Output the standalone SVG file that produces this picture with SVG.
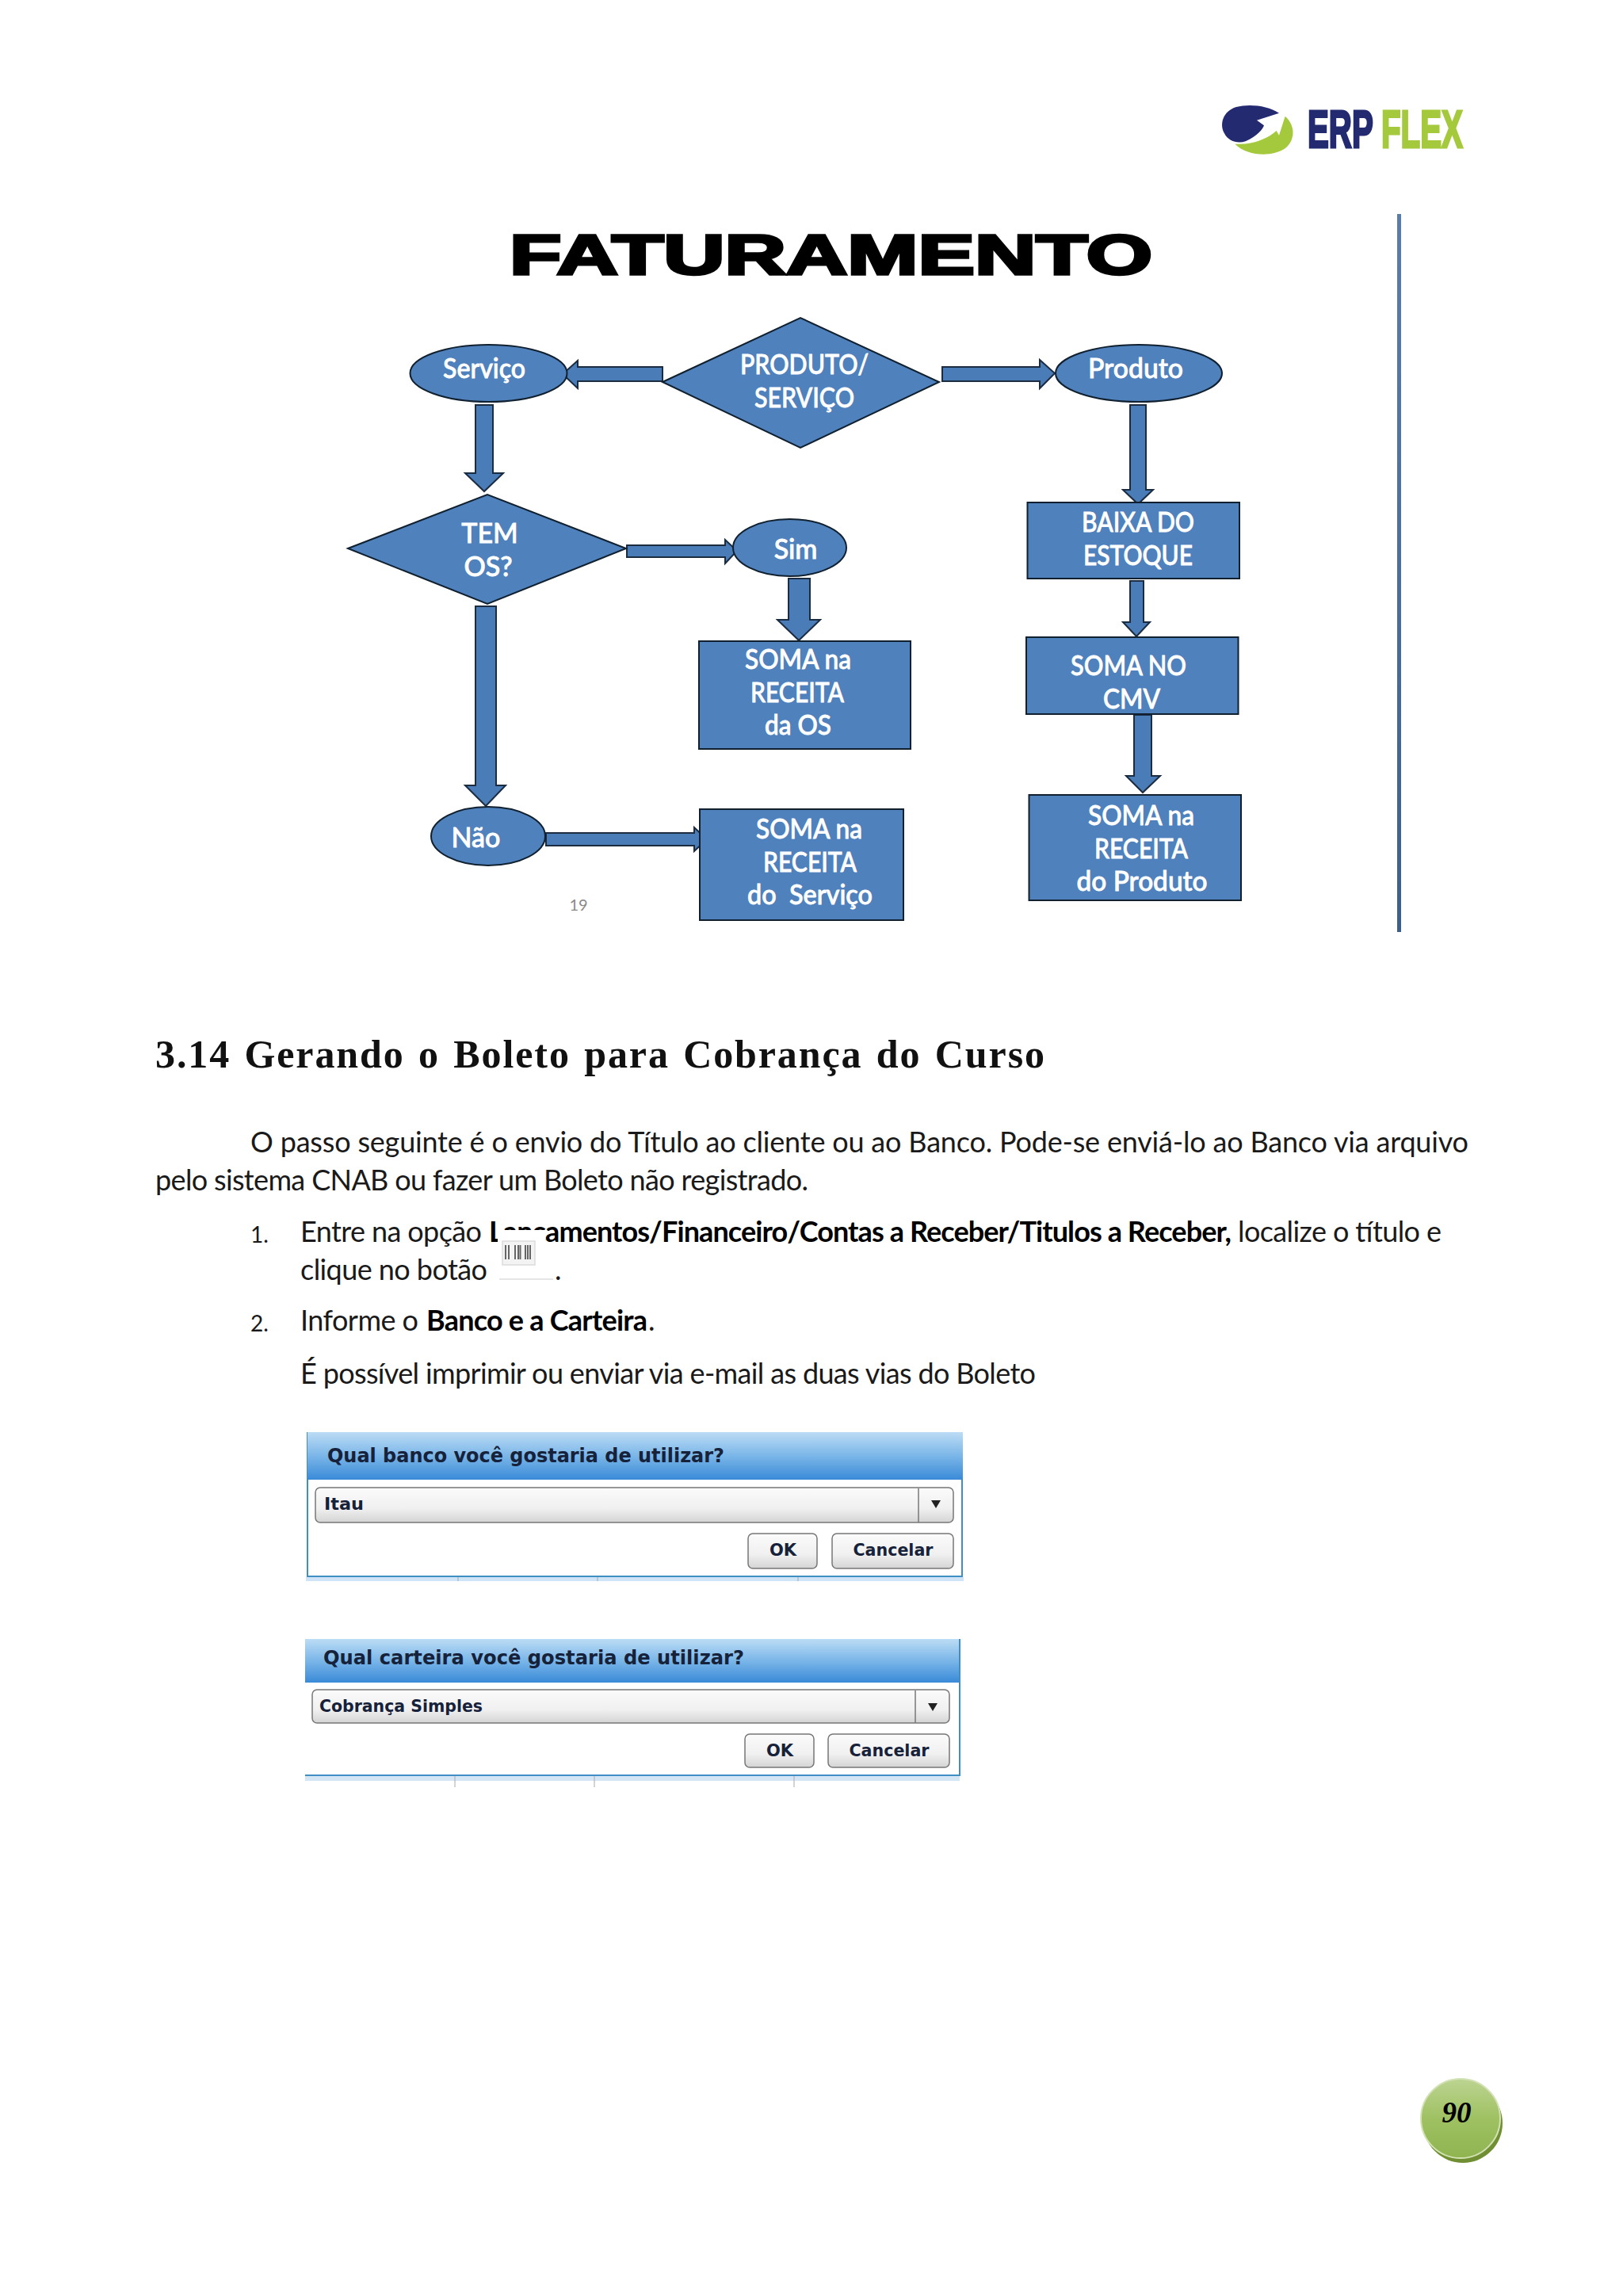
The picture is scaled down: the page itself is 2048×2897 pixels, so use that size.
<svg xmlns="http://www.w3.org/2000/svg" width="2048" height="2897" viewBox="0 0 2048 2897">
<style>
.sh{fill:#4f81bd;stroke:#10202f;stroke-width:2}
.ar{fill:#4a7cb8;stroke:#1c2c40;stroke-width:2}
.fl{font-family:Lato,"Open Sans",sans-serif;font-size:34px;fill:#fff;text-anchor:middle;font-weight:500;stroke:#fff;stroke-width:.8}
.bd{font-family:Lato,"Open Sans",sans-serif;font-size:36px;fill:#1a1a1a}
.b{font-weight:700;fill:#000}
.dl{font-family:"DejaVu Sans",sans-serif;font-weight:700;fill:#16213a}
.btn{fill:url(#btn);stroke:#777;stroke-width:1.5}
.lg{font-family:"Liberation Sans",sans-serif;font-weight:700;font-size:66px;stroke-width:3}
</style>
<defs>
<linearGradient id="hd" x1="0" y1="0" x2="0" y2="1"><stop offset="0" stop-color="#bcdcf5"/><stop offset=".5" stop-color="#7ab6e8"/><stop offset="1" stop-color="#3a8ad8"/></linearGradient>
<linearGradient id="btn" x1="0" y1="0" x2="0" y2="1"><stop offset="0" stop-color="#fbfbfb"/><stop offset=".6" stop-color="#f0f0f0"/><stop offset="1" stop-color="#d4d4d4"/></linearGradient>
<linearGradient id="bg" x1="0" y1="0" x2="0" y2="1"><stop offset="0" stop-color="#bcd492"/><stop offset=".5" stop-color="#9fc162"/><stop offset="1" stop-color="#8fb450"/></linearGradient>
<linearGradient id="vl" x1="0" y1="0" x2="0" y2="1"><stop offset="0" stop-color="#5b7ea8"/><stop offset="1" stop-color="#3f5f88"/></linearGradient>
</defs>
<rect width="2048" height="2897" fill="#fff"/>

<g id="logo">
<g transform="translate(1500 100) scale(.3333)">
<path d="M342 128C300 100 230 92 180 105C130 120 115 170 135 205C150 235 185 245 215 235C260 215 280 190 285 175L258 155Z" fill="#232a70"/>
<path d="M365 140C410 180 400 240 360 265C310 295 220 290 175 245C240 250 300 225 332 195L342 212Z" fill="#a5c93c"/>
</g>
<text class="lg" transform="translate(1650 186) scale(.61 1)" fill="#232a70" stroke="#232a70">ERP</text>
<text class="lg" transform="translate(1743 186) scale(.61 1)" fill="#a5c93c" stroke="#a5c93c">FLEX</text>
</g>

<rect id="side-rule" x="1763" y="270" width="5" height="906" fill="url(#vl)"/>

<text id="flow-title" x="643" y="345.500" font-family="Liberation Sans,sans-serif" font-weight="700" font-size="70" fill="#000" stroke="#000" stroke-width="3.500" textLength="811" lengthAdjust="spacingAndGlyphs">FATURAMENTO</text>

<g id="connectors">
<path class="ar" d="M836 463H729V455L710 472L729 490V481H836Z"/>
<path class="ar" d="M1189 463H1312V454L1331 471L1312 490V481H1189Z"/>
<path class="ar" d="M600 511H622V597H635L611 620L587 597H600Z"/>
<path class="ar" d="M791 688H915V681L930 695L915 711V703H791Z"/>
<path class="ar" d="M995 730H1022V782H1035L1008 808L981 782H995Z"/>
<path class="ar" d="M600 765H626V991H638L613 1017L587 991H600Z"/>
<path class="ar" d="M689 1051H876V1044L892 1059L876 1074V1067H689Z"/>
<path class="ar" d="M1426 511H1446V618H1455L1436 636L1417 618H1426Z"/>
<path class="ar" d="M1426 733H1443V785H1451L1434 803L1417 785H1426Z"/>
<path class="ar" d="M1431 902H1453V979H1464L1442 1000L1421 979H1431Z"/>
</g>

<g id="node-produto-servico"><polygon class="sh" points="836,482 1010,401 1185,482 1010,565"/>
<text class="fl" x="1015" y="472" textLength="162" lengthAdjust="spacingAndGlyphs">PRODUTO/</text><text class="fl" x="1015" y="514" textLength="126" lengthAdjust="spacingAndGlyphs">SERVIÇO</text></g>
<g id="node-servico"><ellipse class="sh" cx="616.5" cy="471" rx="99" ry="36"/>
<text class="fl" x="611" y="477" textLength="104" lengthAdjust="spacingAndGlyphs">Serviço</text></g>
<g id="node-produto"><ellipse class="sh" cx="1437" cy="471" rx="105" ry="36"/>
<text class="fl" x="1433" y="477" textLength="120" lengthAdjust="spacingAndGlyphs">Produto</text></g>
<g id="node-tem-os"><polygon class="sh" points="439,692 615,624 790,692 615,762"/>
<text class="fl" x="618" y="685">TEM</text><text class="fl" x="616" y="727">OS?</text></g>
<g id="node-sim"><ellipse class="sh" cx="996.500" cy="691" rx="71.500" ry="36"/>
<text class="fl" x="1004" y="705">Sim</text></g>
<g id="node-soma-os"><rect class="sh" x="882" y="809" width="267" height="136"/>
<text class="fl" x="1007" y="844" textLength="134" lengthAdjust="spacingAndGlyphs">SOMA na</text><text class="fl" x="1006" y="886" textLength="118" lengthAdjust="spacingAndGlyphs">RECEITA</text><text class="fl" x="1007" y="927" textLength="84" lengthAdjust="spacingAndGlyphs">da OS</text></g>
<g id="node-nao"><ellipse class="sh" cx="616" cy="1055" rx="72" ry="37"/>
<text class="fl" x="600.500" y="1069">Não</text></g>
<g id="node-soma-servico"><rect class="sh" x="883" y="1021" width="257" height="140"/>
<text class="fl" x="1021" y="1058" textLength="134" lengthAdjust="spacingAndGlyphs">SOMA na</text><text class="fl" x="1022" y="1100" textLength="118" lengthAdjust="spacingAndGlyphs">RECEITA</text><text class="fl" x="1022" y="1141" textLength="158" lengthAdjust="spacingAndGlyphs" xml:space="preserve">do  Serviço</text></g>
<g id="node-baixa"><rect class="sh" x="1296.500" y="634" width="267.500" height="96"/>
<text class="fl" x="1436" y="671" textLength="142" lengthAdjust="spacingAndGlyphs">BAIXA DO</text><text class="fl" x="1436" y="713" textLength="138" lengthAdjust="spacingAndGlyphs">ESTOQUE</text></g>
<g id="node-soma-cmv"><rect class="sh" x="1295" y="804" width="267.500" height="97"/>
<text class="fl" x="1424" y="852" textLength="146" lengthAdjust="spacingAndGlyphs">SOMA NO</text><text class="fl" x="1428" y="894" textLength="72" lengthAdjust="spacingAndGlyphs">CMV</text></g>
<g id="node-soma-produto"><rect class="sh" x="1298.500" y="1003" width="267.500" height="133"/>
<text class="fl" x="1440" y="1041" textLength="134" lengthAdjust="spacingAndGlyphs">SOMA na</text><text class="fl" x="1440" y="1083" textLength="118" lengthAdjust="spacingAndGlyphs">RECEITA</text><text class="fl" x="1441" y="1124" textLength="165" lengthAdjust="spacingAndGlyphs">do Produto</text></g>

<text id="slide-number" x="730" y="1149" font-family="Lato,sans-serif" font-size="20" fill="#8a8a8a" text-anchor="middle">19</text>

<text id="heading" x="196" y="1347" font-family="Liberation Serif,serif" font-weight="700" font-size="50" fill="#111" word-spacing="3" textLength="1122">3.14 Gerando o Boleto para Cobrança do Curso</text>

<g id="body">
<text class="bd" x="316" y="1454" textLength="1537">O passo seguinte é o envio do Título ao cliente ou ao Banco. Pode-se enviá-lo ao Banco via arquivo</text>
<text class="bd" x="196" y="1502" textLength="824">pelo sistema CNAB ou fazer um Boleto não registrado.</text>
<text class="bd" x="316" y="1568" style="font-size:28px">1.</text>
<text class="bd" x="379" y="1567" textLength="229">Entre na opção</text>
<text class="bd b" x="617" y="1567" textLength="937">Lançamentos/Financeiro/Contas a Receber/Titulos a Receber,</text>
<text class="bd" x="1562" y="1567" textLength="257">localize o título e</text>
<text class="bd" x="379" y="1615" textLength="236">clique no botão</text>
<text class="bd" x="700" y="1615">.</text>
<g id="barcode-button">
<rect x="628" y="1552" width="60" height="60" fill="#fff"/>
<line x1="630" y1="1614" x2="698" y2="1614" stroke="#e6e6e6" stroke-width="2"/>
<rect x="634" y="1566" width="41" height="30" fill="#f3f3f3" stroke="#dcdcdc" stroke-width="1.500"/>
<path d="M638 1571v18M642 1571v18M650 1571v18M654 1571v18M656.500 1571v18M663 1571v18M666 1571v18M669 1571v18" stroke="#666" stroke-width="2"/>
</g>
<text class="bd" x="316" y="1680" style="font-size:28px">2.</text>
<text class="bd" x="379" y="1679" textLength="149">Informe o</text>
<text class="bd b" x="538" y="1679" textLength="279">Banco e a Carteira</text>
<text class="bd" x="818" y="1679">.</text>
<text class="bd" x="379" y="1746" textLength="928">É possível imprimir ou enviar via e-mail as duas vias do Boleto</text>
</g>

<g id="dialog-banco">
<rect x="386" y="1990" width="830" height="5" fill="#cfe4f6"/>
<path d="M578 1989v6M754 1989v6M1007 1989v6" stroke="#9ab" stroke-width="1"/>
<rect x="388" y="1808" width="826" height="181" fill="#fff" stroke="#3f8fc4" stroke-width="2"/>
<rect x="388" y="1807" width="827" height="60" fill="url(#hd)"/>
<text class="dl" x="413" y="1845" font-size="25" textLength="501" lengthAdjust="spacingAndGlyphs">Qual banco você gostaria de utilizar?</text>
<rect class="btn" x="398" y="1877" width="805" height="44" rx="6"/>
<line x1="1159" y1="1878" x2="1159" y2="1921" stroke="#777" stroke-width="1.500"/>
<path d="M1175 1893h12l-6 10z" fill="#222"/>
<text class="dl" x="409" y="1905" font-size="21" textLength="50" lengthAdjust="spacingAndGlyphs">Itau</text>
<rect class="btn" x="944" y="1935" width="87" height="44" rx="6"/>
<rect class="btn" x="1050" y="1935" width="153" height="44" rx="6"/>
<text class="dl" x="988" y="1963" font-size="21" text-anchor="middle">OK</text>
<text class="dl" x="1127" y="1963" font-size="21" text-anchor="middle" textLength="101" lengthAdjust="spacingAndGlyphs">Cancelar</text>
</g>

<g id="dialog-carteira">
<rect x="385" y="2241" width="826" height="6" fill="#d4e6f5"/>
<path d="M574 2241v14M750 2241v14M1002 2241v14" stroke="#aaa" stroke-width="1"/>
<rect x="385" y="2123" width="825" height="117" fill="#fff"/>
<path d="M1211 2068V2240H385" fill="none" stroke="#3f8fc4" stroke-width="2"/>
<rect x="385" y="2068" width="825" height="55" fill="url(#hd)"/>
<text class="dl" x="408" y="2100" font-size="25" textLength="531" lengthAdjust="spacingAndGlyphs">Qual carteira você gostaria de utilizar?</text>
<rect class="btn" x="394" y="2132" width="804" height="42" rx="6"/>
<line x1="1155" y1="2133" x2="1155" y2="2174" stroke="#777" stroke-width="1.500"/>
<path d="M1171 2149h12l-6 10z" fill="#222"/>
<text class="dl" x="403" y="2160" font-size="21" textLength="206" lengthAdjust="spacingAndGlyphs">Cobrança Simples</text>
<rect class="btn" x="940" y="2188" width="87" height="42" rx="6"/>
<rect class="btn" x="1045" y="2188" width="153" height="42" rx="6"/>
<text class="dl" x="984" y="2216" font-size="21" text-anchor="middle">OK</text>
<text class="dl" x="1122" y="2216" font-size="21" text-anchor="middle" textLength="101" lengthAdjust="spacingAndGlyphs">Cancelar</text>
</g>

<g id="page-number">
<circle cx="1846" cy="2679" r="50" fill="#6f8f32"/>
<circle cx="1843" cy="2673" r="50" fill="url(#bg)" stroke="#d3e2b4" stroke-width="2"/>
<text x="1838" y="2678" font-family="Liberation Serif,serif" font-weight="700" font-style="italic" font-size="37" fill="#000" text-anchor="middle">90</text>
</g>
</svg>
